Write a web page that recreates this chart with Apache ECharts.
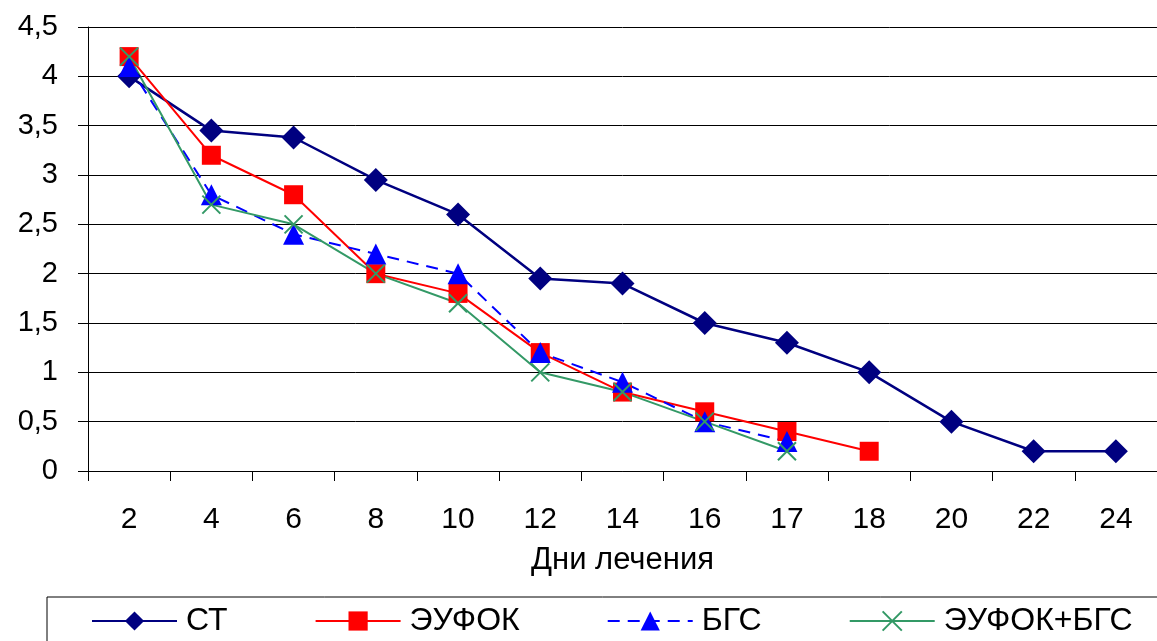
<!DOCTYPE html>
<html>
<head>
<meta charset="utf-8">
<script src="https://cdn.jsdelivr.net/npm/echarts@6/dist/echarts.min.js"></script>
<style>html,body{margin:0;padding:0;background:#fff}#c{width:1157px;height:641px}</style>
</head>
<body>
<div id="c"></div>
<script>
const categories = ['2','4','6','8','10','12','14','16','17','18','20','22','24'];
const st = [4.0, 3.45, 3.38, 2.95, 2.6, 1.95, 1.9, 1.5, 1.3, 1.0, 0.5, 0.2, 0.2];
const eufok = [4.2, 3.2, 2.8, 2.0, 1.8, 1.2, 0.8, 0.6, 0.4, 0.2, null, null, null];
const bgs = [4.1, 2.8, 2.4, 2.2, 2.0, 1.2, 0.9, 0.5, 0.3, null, null, null, null];
const eufokBgs = [4.2, 2.7, 2.5, 2.0, 1.7, 1.0, 0.8, 0.5, 0.2, null, null, null, null];
const seriesNames = ['СТ', 'ЭУФОК', 'БГС', 'ЭУФОК+БГС'];
const xName = 'Дни лечения';

const font = 'Liberation Sans, Arial, sans-serif';
const chart = echarts.init(document.getElementById('c'), null, {renderer: 'canvas'});
const xSym = 'path://M0,0L10,10M10,0L0,10';
chart.setOption({
  animation: false,
  textStyle: {fontFamily: font},
  grid: {left: 88, top: 27, right: -3, bottom: 170, containLabel: false},
  legend: {
    data: seriesNames,
    orient: 'horizontal',
    left: 47, top: 597, width: 1200,
    padding: [8, 40, 40, 44],
    borderColor: '#000', borderWidth: 1,
    itemWidth: 85, itemHeight: 24, itemGap: 87,
    textStyle: {fontSize: 32, color: '#000', fontFamily: font, padding: [0,0,0,4]}
  },
  xAxis: {
    type: 'category', data: categories, boundaryGap: true,
    name: xName, nameLocation: 'middle', nameGap: 74,
    nameTextStyle: {fontSize: 31, color: '#000', fontFamily: font},
    axisLine: {lineStyle: {color: '#000', width: 1}},
    axisTick: {show: true, length: 10, inside: false, lineStyle: {color: '#000'}},
    axisLabel: {fontSize: 30, color: '#000', margin: 34, fontFamily: font},
    splitLine: {show: false}
  },
  yAxis: {
    type: 'value', min: 0, max: 4.5, interval: 0.5,
    axisLine: {show: true, lineStyle: {color: '#000', width: 1}},
    axisTick: {show: true, length: 10, lineStyle: {color: '#000'}},
    axisLabel: {fontSize: 29, color: '#000', margin: 30, fontFamily: font,
      formatter: v => String(v).replace('.', ',')},
    splitLine: {show: true, lineStyle: {color: '#000', width: 1}}
  },
  series: [
    {name: seriesNames[0], type: 'line', data: st, symbol: 'diamond', symbolSize: 24,
      lineStyle: {color: '#000080', width: 2.5}, itemStyle: {color: '#000080'}},
    {name: seriesNames[1], type: 'line', data: eufok, symbol: 'rect', symbolSize: 19,
      lineStyle: {color: '#FF0000', width: 2}, itemStyle: {color: '#FF0000'}},
    {name: seriesNames[2], type: 'line', data: bgs, symbol: 'triangle', symbolSize: 21,
      lineStyle: {color: '#0000FF', width: 2, type: [12, 8]}, itemStyle: {color: '#0000FF'}},
    {name: seriesNames[3], type: 'line', data: eufokBgs, symbol: xSym, symbolSize: 18,
      lineStyle: {color: '#339966', width: 2}, itemStyle: {color: 'rgba(0,0,0,0)', borderColor: '#339966', borderWidth: 2}}
  ]
});
</script>
</body>
</html>
